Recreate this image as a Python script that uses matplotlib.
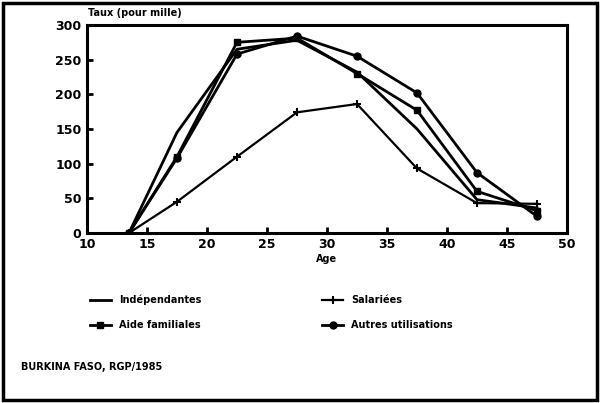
import matplotlib.pyplot as plt
from matplotlib.patches import Rectangle

# groupes d'age (centres) et taux (pour mille)
ages = [13.5, 17.5, 22.5, 27.5, 32.5, 37.5, 42.5, 47.5]
independantes = [0, 145, 265, 278, 232, 150, 48, 36]
salariees = [0, 45, 110, 174, 186, 93, 43, 42]
aide_familiales = [0, 110, 275, 281, 230, 177, 60, 32]
autres_utilisations = [0, 108, 258, 284, 255, 202, 87, 24]

xticks = [10, 15, 20, 25, 30, 35, 40, 45, 50]
yticks = [0, 50, 100, 150, 200, 250, 300]

plt.rcParams['font.family'] = 'DejaVu Sans'
plt.rcParams['font.weight'] = 'bold'

fig = plt.figure(figsize=(6, 4.03), dpi=100)
ax = fig.add_axes([0.145, 0.422, 0.8, 0.516])

ax.plot(ages, independantes, color='black', lw=2, label='Indépendantes')
ax.plot(ages, aide_familiales, color='black', lw=2, marker='s', ms=5,
        label='Aide familiales')
ax.plot(ages, salariees, color='black', lw=1.6, marker='+', ms=6, mew=1.5,
        label='Salariées')
ax.plot(ages, autres_utilisations, color='black', lw=2, marker='o', ms=5,
        label='Autres utilisations')

ax.set_xlim(10, 50)
ax.set_ylim(0, 300)
ax.set_xticks(xticks)
ax.set_yticks(yticks)
ax.tick_params(direction='in', length=4, width=2, labelsize=9, pad=4)
for lab in ax.get_xticklabels() + ax.get_yticklabels():
    lab.set_fontweight('bold')
for s in ax.spines.values():
    s.set_linewidth(2.2)

ax.set_xlabel('Age', fontsize=7, fontweight='bold', labelpad=2)
fig.text(0.147, 0.955, 'Taux (pour mille)', fontsize=7, fontweight='bold',
         ha='left', va='bottom')

fig.legend(loc='upper left', bbox_to_anchor=(0.135, 0.29), ncol=2,
           frameon=False, columnspacing=12.4, labelspacing=1.5,
           handlelength=2.2, prop={'weight': 'bold', 'size': 7})

fig.text(0.035, 0.09, 'BURKINA FASO, RGP/1985', fontsize=7, fontweight='bold',
         ha='left', va='center')

# cadre autour de la figure
fig.patches.append(Rectangle((0.005, 0.008), 0.99, 0.985, transform=fig.transFigure,
                             fill=False, lw=2.5, edgecolor='black'))

fig.savefig('out.png', dpi=100)
